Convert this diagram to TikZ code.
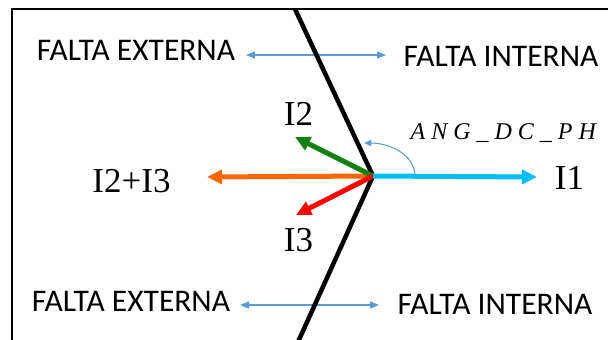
\documentclass[tikz,border=0pt]{standalone}
\usepackage{fontspec}
\setmainfont{Liberation Serif}
\newfontfamily\faltafont{Carlito}
\newfontfamily\angfont[LetterSpace=25]{Liberation Serif}
\usepackage{tikz}
\usetikzlibrary{arrows.meta}
\definecolor{iacyan}{RGB}{0,190,250}
\definecolor{ibgreen}{RGB}{16,128,16}
\definecolor{icred}{RGB}{255,0,0}
\definecolor{sumorange}{RGB}{255,102,0}
\definecolor{zoneblue}{RGB}{91,155,213}
\begin{document}
\begin{tikzpicture}[x=1pt,y=1pt,line width=1.2pt,
  every node/.style={inner sep=0pt},
  vec/.style={line width=5pt,-{Triangle[length=15pt,width=14pt]}},
  zone/.style={draw=zoneblue,line width=1.3pt,{Triangle[length=9pt,width=7pt]}-{Triangle[length=9pt,width=7pt]}},
  falta/.style={font=\faltafont\fontsize{31.5pt}{34pt}\selectfont},
  cur/.style={font=\fontsize{35pt}{38pt}\selectfont}]
  \useasboundingbox (0,0) rectangle (608,340);
  \draw (12,-2) -- (12,331) -- (610,331);
  \coordinate (V) at (373,164);
  \coordinate (T) at (295,331);
  \coordinate (B) at (298,-2);
  \coordinate (zoneTopL) at (246,285);
  \coordinate (zoneTopR) at (386,285);
  \coordinate (zoneBotL) at (240,35);
  \coordinate (zoneBotR) at (379,35);
  \coordinate (tipIa) at (537,163);
  \coordinate (tipIb) at (295,203);
  \coordinate (tipIc) at (296,125);
  \coordinate (tipSum) at (207,163);
  \coordinate (angStart) at (415,164);
  \coordinate (angEnd) at (364,197);
  \node[falta] (extTop) at (136,289.5) {FALTA EXTERNA};
  \node[falta] (intTop) at (501,284) {FALTA INTERNA};
  \node[falta] (extBot) at (131,39) {FALTA EXTERNA};
  \node[falta] (intBot) at (495,36) {FALTA INTERNA};
  \draw[zone] (zoneTopL) -- (zoneTopR);
  \draw[zone] (zoneBotL) -- (zoneBotR);
  \draw[line width=4.5pt,line join=miter] (T) -- (V) -- (B);
  \draw[vec,sumorange] (V) -- (tipSum);
  \draw[vec,ibgreen] (V) -- (tipIb);
  \draw[vec,icred] (V) -- (tipIc);
  \draw[vec,iacyan] (V) -- (tipIa);
  \draw[zoneblue,line width=1pt,-{Triangle[length=7pt,width=6pt]}]
    (angStart) .. controls (415,185) and (390,197) .. (angEnd);
  \node[cur] (lblIa) at (569.5,162.5) {I1};
  \node[cur] (lblIb) at (298.5,226.5) {I2};
  \node[cur] (lblIc) at (298.5,100) {I3};
  \node[cur] (lblSum) at (131.5,159) {I2+I3};
  \node[font=\angfont\fontsize{24pt}{26pt}\itshape\selectfont,anchor=base west] (lblAng) at (410,200) {ANG\_DC\_PH};
\end{tikzpicture}
\end{document}
